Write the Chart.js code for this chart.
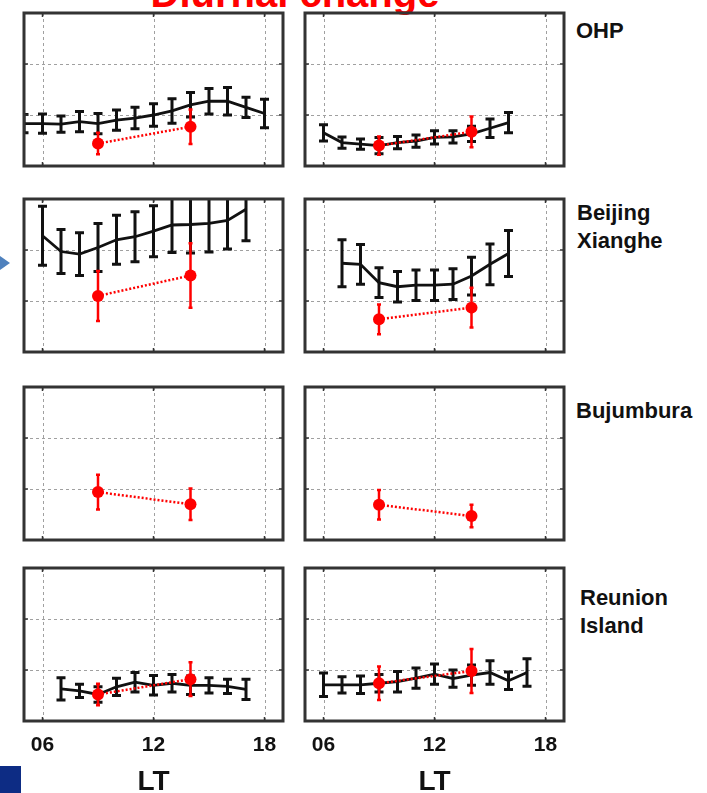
<!DOCTYPE html>
<html>
<head>
<meta charset="utf-8">
<script src="https://cdn.jsdelivr.net/npm/chart.js@4.4.0/dist/chart.umd.min.js"></script>
<style>
  html, body { margin: 0; padding: 0; background: #fff; overflow: hidden; }
  body { width: 707px; height: 793px; position: relative; font-family: "Liberation Sans", Arial, sans-serif; }
  .panel { position: absolute; }
  .label { position: absolute; font-weight: bold; font-size: 22px; color: #111; white-space: nowrap; }
  #title { position: absolute; left: 95px; width: 400px; top: -27px; text-align: center;
           font-weight: bold; font-size: 40px; line-height: 40px; color: #ff0000; }
  #arrow { position: absolute; left: 0; top: 256px; width: 0; height: 0;
           border-top: 7px solid transparent; border-bottom: 7px solid transparent; border-left: 10px solid #4f81bd; }
  #square { position: absolute; left: 0; top: 766px; width: 21px; height: 27px; background: #0d2c84; }
</style>
</head>
<body>
<div id="title">Diurnal change</div>
<div id="arrow"></div>
<div id="square"></div>
<div class="label" style="left:576px; top:19px; line-height:24px;">OHP</div>
<div class="label" style="left:577px; top:199px; line-height:28px;">Beijing<br>Xianghe</div>
<div class="label" style="left:576px; top:399px; line-height:24px;">Bujumbura</div>
<div class="label" style="left:580px; top:584px; line-height:28px;">Reunion<br>Island</div>

<script>
// x ticks and grid
const xTickValues = [6, 12, 18];
const xTickLabels = ["06", "12", "18"];
const yGridValues = [1, 2];

// hourly means (black) with error bars
const ohpLeftHours = [5, 6, 7, 8, 9, 10, 11, 12, 13, 14, 15, 16, 17, 18];
const ohpLeftMean = [0.83, 0.83, 0.82, 0.87, 0.83, 0.90, 0.94, 1.00, 1.08, 1.20, 1.27, 1.27, 1.15, 1.03];
const ohpLeftErr = [0.18, 0.19, 0.16, 0.20, 0.20, 0.20, 0.21, 0.22, 0.24, 0.24, 0.25, 0.27, 0.20, 0.28];

const ohpRightHours = [6, 7, 8, 9, 10, 11, 12, 13, 14, 15, 16];
const ohpRightMean = [0.65, 0.46, 0.43, 0.40, 0.46, 0.49, 0.56, 0.57, 0.63, 0.74, 0.85];
const ohpRightErr = [0.16, 0.11, 0.10, 0.16, 0.12, 0.12, 0.13, 0.12, 0.15, 0.18, 0.20];

const beijingLeftHours = [6, 7, 8, 9, 10, 11, 12, 13, 14, 15, 16, 17];
const beijingLeftMean = [2.28, 1.97, 1.92, 2.05, 2.20, 2.26, 2.37, 2.49, 2.50, 2.52, 2.58, 2.80];
const beijingLeftErr = [0.58, 0.43, 0.42, 0.47, 0.48, 0.49, 0.50, 0.54, 0.56, 0.56, 0.56, 0.62];

const beijingRightHours = [7, 8, 9, 10, 11, 12, 13, 14, 15, 16];
const beijingRightMean = [1.74, 1.72, 1.36, 1.28, 1.31, 1.31, 1.33, 1.49, 1.72, 1.93];
const beijingRightErr = [0.46, 0.39, 0.29, 0.30, 0.30, 0.30, 0.30, 0.37, 0.40, 0.45];

const reunionLeftHours = [7, 8, 9, 10, 11, 12, 13, 14, 15, 16, 17];
const reunionLeftMean = [0.63, 0.59, 0.52, 0.67, 0.76, 0.70, 0.74, 0.70, 0.70, 0.68, 0.62];
const reunionLeftErr = [0.22, 0.13, 0.15, 0.17, 0.19, 0.19, 0.17, 0.18, 0.15, 0.14, 0.20];

const reunionRightHours = [6, 7, 8, 9, 10, 11, 12, 13, 14, 15, 16, 17];
const reunionRightMean = [0.71, 0.71, 0.71, 0.74, 0.77, 0.84, 0.92, 0.83, 0.90, 0.95, 0.79, 0.95];
const reunionRightErr = [0.23, 0.16, 0.17, 0.17, 0.20, 0.20, 0.20, 0.17, 0.20, 0.23, 0.17, 0.27];

// morning / afternoon overpasses (red)
const redHours = [9, 14];
const ohpLeftRed = [0.44, 0.77], ohpLeftRedErr = [0.21, 0.34];
const ohpRightRed = [0.40, 0.67], ohpRightRedErr = [0.18, 0.30];
const beijingLeftRed = [1.10, 1.50], beijingLeftRedErr = [0.49, 0.63];
const beijingRightRed = [0.64, 0.87], beijingRightRedErr = [0.29, 0.39];
const bujLeftRed = [0.94, 0.70], bujLeftRedErr = [0.34, 0.31];
const bujRightRed = [0.69, 0.47], bujRightRedErr = [0.29, 0.22];
const reunionLeftRed = [0.52, 0.82], reunionLeftRedErr = [0.21, 0.33];
const reunionRightRed = [0.74, 0.98], reunionRightRedErr = [0.33, 0.43];

// draws dashed grid + frame with little ticks
const framePlugin = {
    id: "frame",
    beforeDatasetsDraw(chart) {
        const { ctx, chartArea: a, scales: { x, y } } = chart;
        ctx.save();
        ctx.strokeStyle = "#a0a0a0";
        ctx.lineWidth = 1;
        ctx.setLineDash([3, 3]);
        xTickValues.forEach(v => {
            const px = Math.round(x.getPixelForValue(v)) + 0.5;
            ctx.beginPath(); ctx.moveTo(px, a.top); ctx.lineTo(px, a.bottom); ctx.stroke();
        });
        yGridValues.forEach(v => {
            const py = Math.round(y.getPixelForValue(v)) + 0.5;
            ctx.beginPath(); ctx.moveTo(a.left, py); ctx.lineTo(a.right, py); ctx.stroke();
        });
        ctx.restore();
    },
    afterDraw(chart) {
        const { ctx, chartArea: a, scales: { x, y } } = chart;
        ctx.save();
        ctx.strokeStyle = "#333";
        ctx.lineWidth = 1.5;
        xTickValues.forEach(v => {
            const px = x.getPixelForValue(v);
            ctx.beginPath();
            ctx.moveTo(px, a.top); ctx.lineTo(px, a.top + 4);
            ctx.moveTo(px, a.bottom); ctx.lineTo(px, a.bottom - 4);
            ctx.stroke();
        });
        yGridValues.forEach(v => {
            const py = y.getPixelForValue(v);
            ctx.beginPath();
            ctx.moveTo(a.left, py); ctx.lineTo(a.left + 4, py);
            ctx.moveTo(a.right, py); ctx.lineTo(a.right - 4, py);
            ctx.stroke();
        });
        ctx.lineWidth = 3;
        ctx.strokeRect(a.left, a.top, a.right - a.left, a.bottom - a.top);
        ctx.restore();
    }
};

// vertical error bars, drawn right after their dataset
const errorBars = {
    id: "errorBars",
    afterDatasetDraw(chart, args) {
        const ds = chart.data.datasets[args.index];
        if (!ds.errors) return;
        const { ctx, chartArea: a, scales: { x, y } } = chart;
        ctx.save();
        ctx.beginPath();
        ctx.rect(a.left, a.top, a.right - a.left, a.bottom - a.top);
        ctx.clip();
        ctx.strokeStyle = ds.borderColor;
        ctx.lineWidth = ds.errWidth;
        ctx.setLineDash([]);
        ds.data.forEach((p, i) => {
            const px = x.getPixelForValue(p.x);
            const top = y.getPixelForValue(p.y + ds.errors[i]);
            const bot = y.getPixelForValue(p.y - ds.errors[i]);
            ctx.beginPath();
            ctx.moveTo(px, top); ctx.lineTo(px, bot);
            ctx.moveTo(px - ds.cap, top); ctx.lineTo(px + ds.cap, top);
            ctx.moveTo(px - ds.cap, bot); ctx.lineTo(px + ds.cap, bot);
            ctx.stroke();
        });
        ctx.restore();
    }
};

function points(hours, values) {
    return hours.map((h, i) => ({ x: h, y: values[i] }));
}

function makePanel(left, top, black, red, bottomRow) {
    const pad = 6;
    const axisH = 75;
    const div = document.createElement("div");
    div.className = "panel";
    div.style.left = (left - pad) + "px";
    div.style.top = (top - pad) + "px";
    div.style.width = (259 + 2 * pad) + "px";
    div.style.height = (153 + pad + (bottomRow ? axisH : pad)) + "px";
    const canvas = document.createElement("canvas");
    div.appendChild(canvas);
    document.body.appendChild(div);

    const datasets = [{
        data: points(redHours, red.values),
        errors: red.errors,
        borderColor: "#ff0000",
        backgroundColor: "#ff0000",
        borderWidth: 2.5,
        borderDash: [2, 2],
        pointRadius: 6,
        pointBorderWidth: 0,
        errWidth: 2.5,
        cap: 2,
        order: 0
    }];
    if (black) {
        datasets.push({
            data: points(black.hours, black.values),
            errors: black.errors,
            borderColor: "#111",
            borderWidth: 2.8,
            pointRadius: 0,
            errWidth: 3,
            cap: 4.5,
            order: 1
        });
    }

    const xAxis = {
        type: "linear",
        min: 5,
        max: 19,
        display: bottomRow,
        grid: { display: false, drawTicks: false },
        border: { display: false },
        afterBuildTicks: axis => { axis.ticks = xTickValues.map(v => ({ value: v })); },
        ticks: {
            padding: 12,
            color: "#111",
            font: { family: "Liberation Sans", size: 21, weight: "bold" },
            callback: v => xTickLabels[xTickValues.indexOf(v)]
        },
        title: {
            display: true,
            text: "LT",
            color: "#111",
            padding: 0,
            font: { family: "Liberation Sans", size: 28, weight: "bold", lineHeight: 1 }
        }
    };
    if (bottomRow) xAxis.afterFit = axis => { axis.height = axisH; };

    new Chart(canvas, {
        type: "line",
        data: { datasets },
        options: {
            responsive: true,
            maintainAspectRatio: false,
            animation: false,
            layout: { padding: { left: pad, right: pad, top: pad, bottom: bottomRow ? 0 : pad } },
            plugins: { legend: { display: false }, tooltip: { enabled: false } },
            elements: { line: { tension: 0 } },
            scales: {
                x: xAxis,
                y: { type: "linear", min: 0, max: 3, display: false }
            }
        },
        plugins: [framePlugin, errorBars]
    });
}

makePanel(24, 13,
    { hours: ohpLeftHours, values: ohpLeftMean, errors: ohpLeftErr },
    { values: ohpLeftRed, errors: ohpLeftRedErr }, false);
makePanel(305, 13,
    { hours: ohpRightHours, values: ohpRightMean, errors: ohpRightErr },
    { values: ohpRightRed, errors: ohpRightRedErr }, false);
makePanel(24, 199,
    { hours: beijingLeftHours, values: beijingLeftMean, errors: beijingLeftErr },
    { values: beijingLeftRed, errors: beijingLeftRedErr }, false);
makePanel(305, 199,
    { hours: beijingRightHours, values: beijingRightMean, errors: beijingRightErr },
    { values: beijingRightRed, errors: beijingRightRedErr }, false);
makePanel(24, 387, null, { values: bujLeftRed, errors: bujLeftRedErr }, false);
makePanel(305, 387, null, { values: bujRightRed, errors: bujRightRedErr }, false);
makePanel(24, 568,
    { hours: reunionLeftHours, values: reunionLeftMean, errors: reunionLeftErr },
    { values: reunionLeftRed, errors: reunionLeftRedErr }, true);
makePanel(305, 568,
    { hours: reunionRightHours, values: reunionRightMean, errors: reunionRightErr },
    { values: reunionRightRed, errors: reunionRightRedErr }, true);
</script>
</body>
</html>
